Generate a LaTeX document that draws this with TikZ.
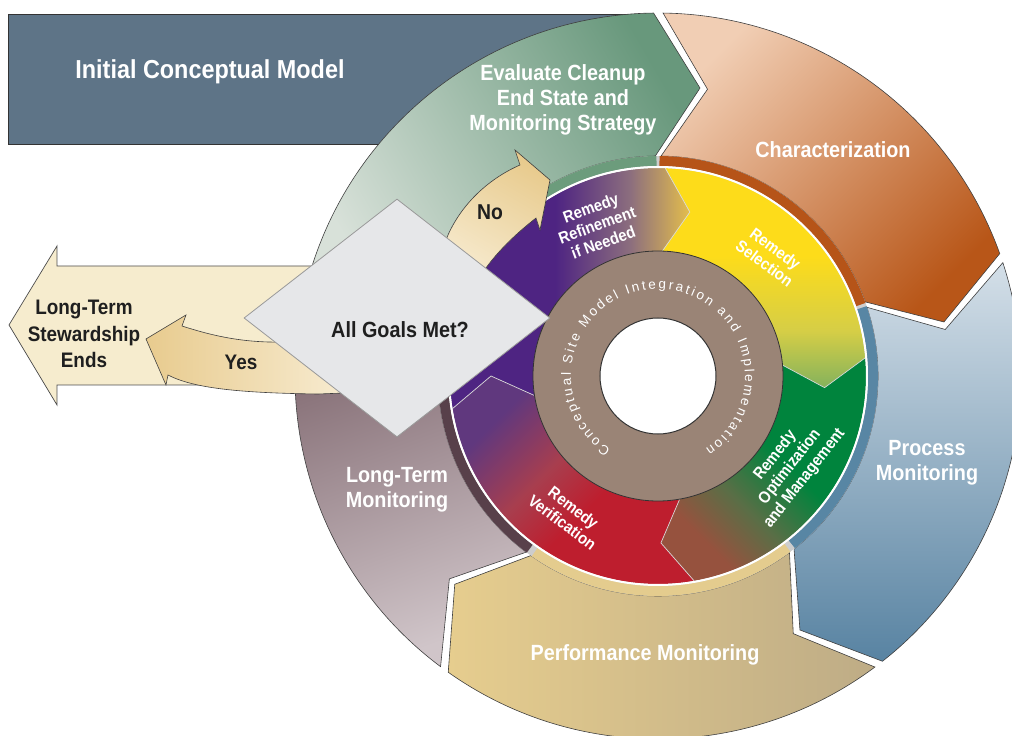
\documentclass[tikz,border=0pt]{standalone}
\usepackage{fontspec}
\setmainfont{Liberation Sans}[FakeStretch=0.9]
\newfontfamily\arcfont{Liberation Sans}
\usetikzlibrary{shapes.geometric,decorations.text}

\definecolor{icmblue}{RGB}{94,116,135}
\definecolor{evlight}{RGB}{216,225,217}
\definecolor{evdark}{RGB}{104,152,124}
\definecolor{chlight}{RGB}{241,206,180}
\definecolor{chdark}{RGB}{184,86,24}
\definecolor{prlight}{RGB}{212,223,232}
\definecolor{prdark}{RGB}{88,131,162}
\definecolor{pflight}{RGB}{230,205,142}
\definecolor{pfdark}{RGB}{190,172,134}
\definecolor{ltdark}{RGB}{116,90,98}
\definecolor{ltlight}{RGB}{208,197,201}
\definecolor{evband}{RGB}{108,156,124}
\definecolor{chband}{RGB}{182,84,24}
\definecolor{prband}{RGB}{88,134,164}
\definecolor{pfband}{RGB}{228,204,142}
\definecolor{ltband}{RGB}{88,64,74}
\definecolor{bandgray}{RGB}{205,205,205}
\definecolor{rfpur}{RGB}{78,36,130}
\definecolor{rfmauve}{RGB}{140,110,126}
\definecolor{rftan}{RGB}{228,190,76}
\definecolor{slyel}{RGB}{253,220,26}
\definecolor{slolive}{RGB}{214,206,70}
\definecolor{slgrn}{RGB}{132,178,92}
\definecolor{opgrn}{RGB}{0,132,61}
\definecolor{opmix}{RGB}{90,110,70}
\definecolor{opbrn}{RGB}{150,82,62}
\definecolor{vepur}{RGB}{96,56,126}
\definecolor{vemid}{RGB}{168,62,78}
\definecolor{vered}{RGB}{190,30,46}
\definecolor{csmgray}{RGB}{154,132,118}
\definecolor{goalgray}{RGB}{230,231,233}
\definecolor{stewfill}{RGB}{246,236,206}
\definecolor{yestan}{RGB}{232,203,142}
\definecolor{yeslight}{RGB}{247,235,208}

\pgfdeclarehorizontalshading{refineshade}{100bp}{color(0bp)=(rfpur); color(25bp)=(rfpur); color(48bp)=(rfpur); color(63bp)=(rfmauve); color(75bp)=(rftan); color(100bp)=(rftan)}
\pgfdeclareverticalshading{selectshade}{100bp}{color(0bp)=(slgrn); color(25bp)=(slgrn); color(38bp)=(slolive); color(55bp)=(slyel); color(100bp)=(slyel)}
\pgfdeclarehorizontalshading{optshade}{100bp}{color(0bp)=(opbrn); color(28bp)=(opbrn); color(40bp)=(opmix); color(54bp)=(opgrn); color(100bp)=(opgrn)}
\pgfdeclarehorizontalshading{verishade}{100bp}{color(0bp)=(vepur); color(28bp)=(vepur); color(44bp)=(vemid); color(56bp)=(vered); color(100bp)=(vered)}

% one chevron arrow of the outer cycle: tail angle, head angle, style
\newcommand{\cyclearrow}[3]{%
  \path[#3] (#1:220) -- ({#1-9}:291) -- (#1:363)
    arc[start angle=#1, end angle=#2, radius=363]
    -- ({#2-9}:291) -- (#2:220)
    arc[start angle=#2, end angle=#1, radius=220] -- cycle;}
% one segment of the remedy ring
\newcommand{\remedyseg}[3]{%
  \path[#3] (#1:125) -- ({#1-9}:167) -- (#1:208)
    arc[start angle=#1, end angle=#2, radius=208]
    -- ({#2-9}:167) -- (#2:125)
    arc[start angle=#2, end angle=#1, radius=125] -- cycle;}
% thin band between the two rings
\newcommand{\bandseg}[3]{%
  \path[#3] (#1:210) arc[start angle=#1, end angle=#2, radius=210]
    -- (#2:220) arc[start angle=#2, end angle=#1, radius=220] -- cycle;}

\begin{document}
\begin{tikzpicture}[x=1pt,y=1pt,
  ringarrow/.style={draw=black!75, line width=0.6pt},
  segline/.style={draw=white!70!gray, line width=0.7pt},
  lbl/.style={font=\bfseries\fontsize{22}{25}\selectfont, text=white, align=center, inner sep=0pt},
  seglbl/.style={font=\bfseries\fontsize{16.5}{18.5}\selectfont, text=white, align=center, inner sep=0pt},
  darklbl/.style={lbl, text=black!88}]
\useasboundingbox (-658,-360) rectangle (354,376);
\clip (-658,-360) rectangle (354,376);

\draw[fill=icmblue, draw=black!80, line width=0.7pt] (-650,232) rectangle (-25,362);
\node[lbl, font=\bfseries\fontsize{26}{30}\selectfont] (icm) at (-448,304) {Initial Conceptual Model};

% outer cycle
\cyclearrow{163}{90.7}{ringarrow, top color=evdark, bottom color=evlight, shading angle=-60}
\cyclearrow{89.2}{19.7}{ringarrow, top color=chlight, bottom color=chdark, shading angle=45}
\cyclearrow{18.2}{-51.8}{ringarrow, top color=prlight, bottom color=prdark}
\cyclearrow{-53.3}{-125.3}{ringarrow, left color=pflight, right color=pfdark}
\cyclearrow{-126.8}{-195.5}{ringarrow, top color=ltdark, bottom color=ltlight, shading angle=20}

\fill[bandgray] (0,0) circle (220);
\bandseg{160}{90.4}{fill=evband}
\bandseg{89.6}{19.4}{fill=chband}
\bandseg{18.5}{-51.5}{fill=prband}
\bandseg{-53}{-125}{fill=pfband}
\bandseg{-126.6}{-200}{fill=ltband}

% remedy ring
\remedyseg{189}{88}{shading=refineshade}
\remedyseg{88}{5}{shading=selectshade}
\remedyseg{5}{-80}{shading=optshade, shading angle=45}
\remedyseg{-80}{-171}{shading=verishade, shading angle=-45}
\foreach \a in {189,88,5,-80}
  \draw[segline] (\a:125) -- ({\a-9}:167) -- (\a:208);
\draw[white, line width=2pt] (0,0) circle (209);

\draw[fill=csmgray, draw=black!80, line width=0.8pt] (0,0) circle (125);
\path[decorate, decoration={text along path, text color=white, text align={fit to path},
  text={|\arcfont\fontsize{13.5}{13.5}\selectfont|Conceptual Site Model Integration and Implementation}}]
  (237:87) arc[start angle=237, end angle=-57, radius=87];
\draw[fill=white, draw=black!80, line width=1pt] (0,0) circle (58);

% decision
\draw[fill=stewfill, draw=black!70, line width=0.7pt] (-649,51) -- (-601,130) -- (-601,110) -- (-318,110)
  -- (-318,-9) -- (-601,-9) -- (-601,-29) -- cycle;
\draw[left color=yestan, right color=yeslight, draw=black!75, line width=0.6pt]
  (-512,37) -- (-472,61) -- (-476,50) .. controls (-445,40) and (-420,35) .. (-390,34) -- (-320,33)
  -- (-313,-17) -- (-340,-18) .. controls (-420,-17) and (-465,-12) .. (-490,1) -- (-492,-9) -- cycle;
\draw[top color=yestan, bottom color=yeslight, shading angle=-30, draw=black!75, line width=0.6pt]
  (-218,121) -- (-210,141) .. controls (-197,170) and (-172,196) .. (-138,211) -- (-143,226)
  -- (-108,196) -- (-118,146) -- (-122,158) .. controls (-145,140) and (-168,118) .. (-183,91) -- cycle;
\node[diamond, draw=black!40, fill=goalgray, line width=0.8pt, minimum width=306pt,
  minimum height=238pt, inner sep=0pt] (goals) at (-261,58) {};
\node[darklbl] (goalstxt) at (-258,46) {All Goals Met?};
\node[darklbl, font=\bfseries\fontsize{21}{26.5}\selectfont] (ltsend) at (-574,42) {Long-Term\\Stewardship\\Ends};
\node[darklbl, font=\bfseries\fontsize{21}{25}\selectfont] (yes) at (-417,14) {Yes};
\node[darklbl, font=\bfseries\fontsize{21.5}{25}\selectfont] (no) at (-168,164) {No};

% labels
\node[lbl] (evaluate) at (-95,276) {Evaluate Cleanup\\End State and\\Monitoring Strategy};
\node[lbl] (charact) at (175,226) {Characterization};
\node[lbl] (process) at (269,-86.5) {Process\\Monitoring};
\node[lbl] (perform) at (-13,-279) {Performance Monitoring};
\node[lbl] (longterm) at (-261,-113.5) {Long-Term\\Monitoring};
\node[seglbl, rotate=20] (refine) at (-61,151) {Remedy\\Refinement\\if Needed};
\node[seglbl, rotate=-36] (select) at (112,120) {Remedy\\Selection};
\node[seglbl, rotate=52] (optim) at (132,-91) {Remedy\\Optimization\\and Management};
\node[seglbl, rotate=-37] (verify) at (-90,-139) {Remedy\\Verification};
\end{tikzpicture}
\end{document}
